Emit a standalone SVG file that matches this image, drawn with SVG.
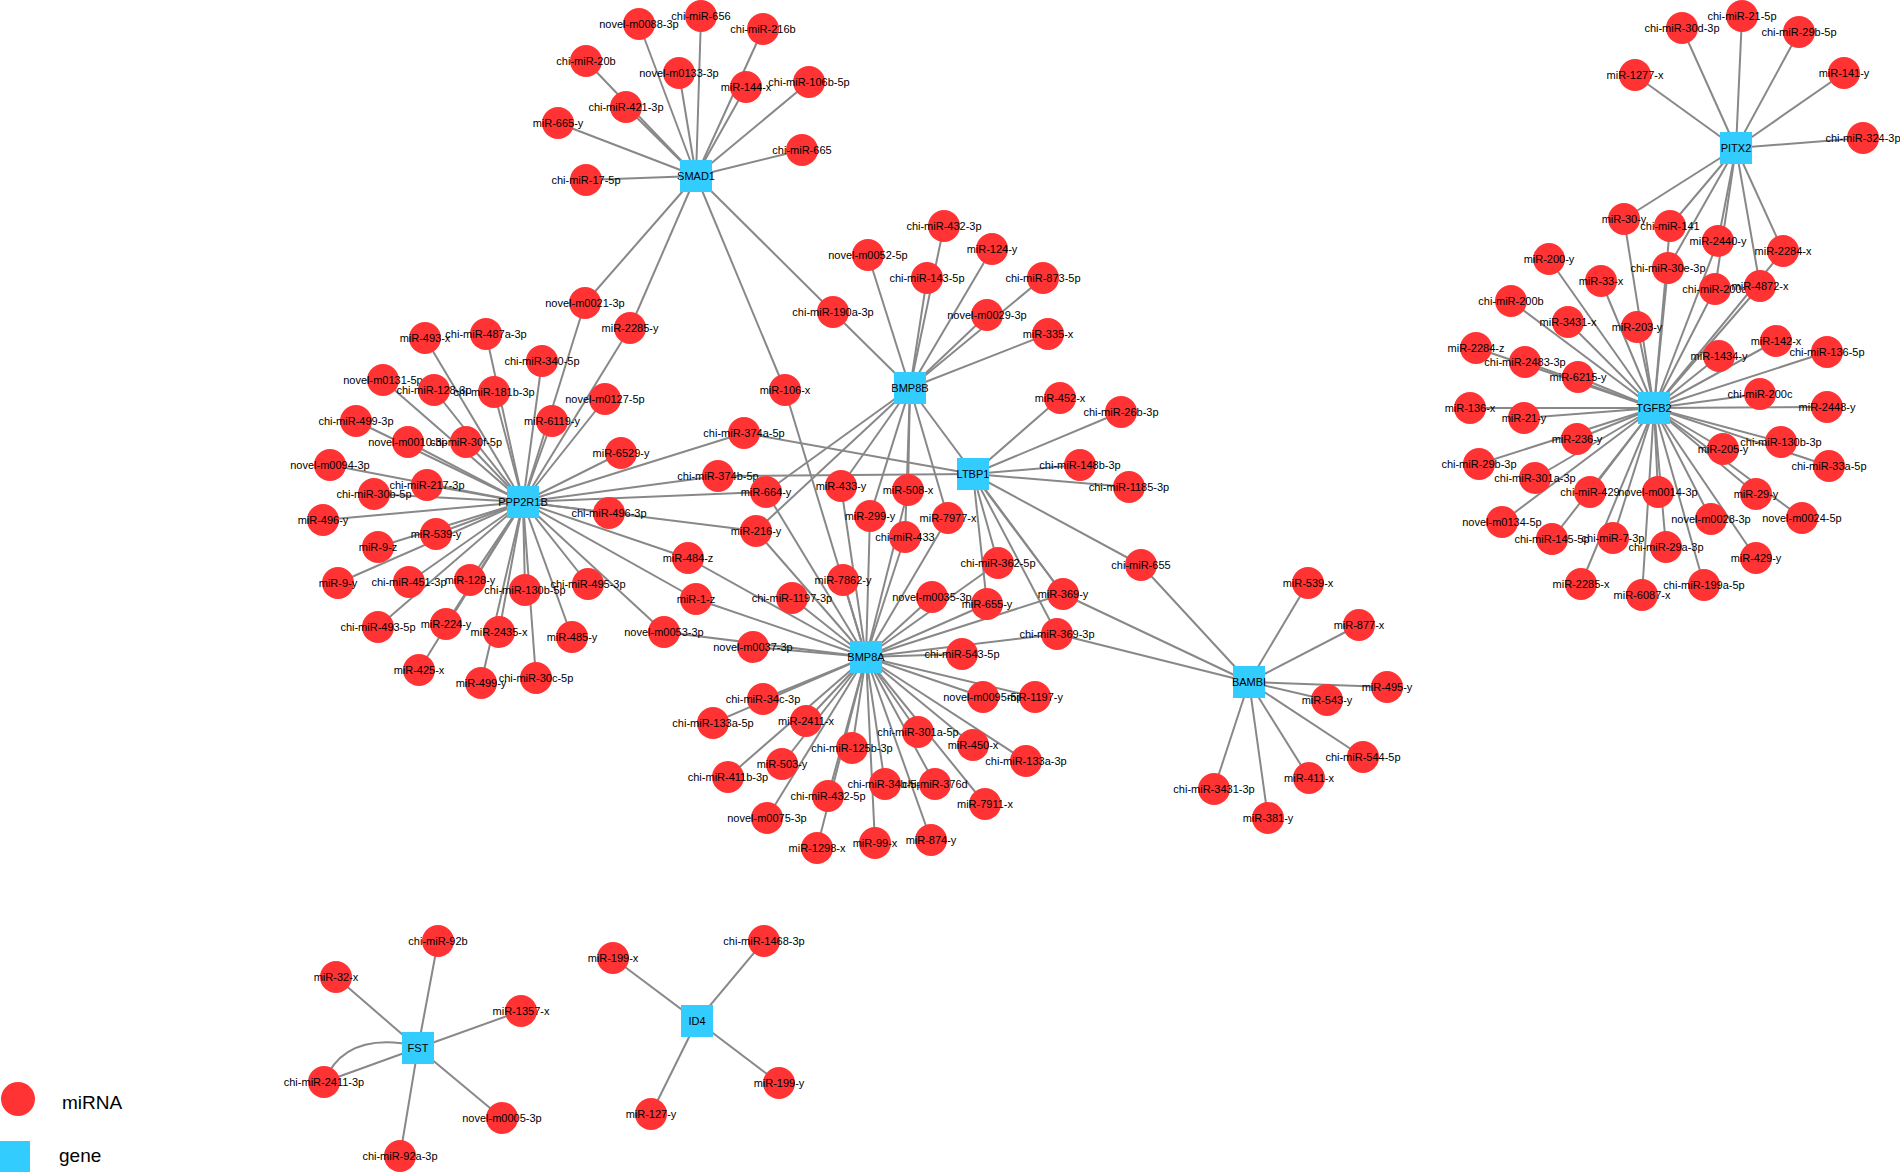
<svg xmlns="http://www.w3.org/2000/svg" width="1900" height="1172" viewBox="0 0 1900 1172">
<style>
.m circle{fill:#FF3333}
.g rect{fill:#33CCFF}
text{font-family:"Liberation Sans",Arial,sans-serif;font-size:11px;text-anchor:middle;fill:#000}
#edges line,#edges path{stroke:#888;stroke-width:2;fill:none}
.lg{font-size:19px;text-anchor:start}
</style>
<rect width="1900" height="1172" fill="#fff"/>
<g id="edges">
<!-- SMAD1 -->
<line x1="696" y1="176" x2="639" y2="24"/><line x1="696" y1="176" x2="701" y2="16"/><line x1="696" y1="176" x2="763" y2="29"/><line x1="696" y1="176" x2="586" y2="61"/><line x1="696" y1="176" x2="679" y2="73"/><line x1="696" y1="176" x2="746" y2="87"/><line x1="696" y1="176" x2="809" y2="82"/><line x1="696" y1="176" x2="626" y2="107"/><line x1="696" y1="176" x2="558" y2="123"/><line x1="696" y1="176" x2="802" y2="150"/><line x1="696" y1="176" x2="586" y2="180"/><line x1="696" y1="176" x2="585" y2="303"/><line x1="696" y1="176" x2="630" y2="328"/><line x1="696" y1="176" x2="785" y2="390"/><line x1="696" y1="176" x2="833" y2="312"/>
<!-- PPP2R1B -->
<line x1="523" y1="502" x2="425" y2="338"/><line x1="523" y1="502" x2="486" y2="334"/><line x1="523" y1="502" x2="542" y2="361"/><line x1="523" y1="502" x2="383" y2="380"/><line x1="523" y1="502" x2="434" y2="390"/><line x1="523" y1="502" x2="494" y2="392"/><line x1="523" y1="502" x2="605" y2="399"/><line x1="523" y1="502" x2="356" y2="421"/><line x1="523" y1="502" x2="552" y2="421"/><line x1="523" y1="502" x2="408" y2="442"/><line x1="523" y1="502" x2="466" y2="442"/><line x1="523" y1="502" x2="621" y2="453"/><line x1="523" y1="502" x2="330" y2="465"/><line x1="523" y1="502" x2="427" y2="485"/><line x1="523" y1="502" x2="374" y2="494"/><line x1="523" y1="502" x2="323" y2="520"/><line x1="523" y1="502" x2="436" y2="534"/><line x1="523" y1="502" x2="378" y2="547"/><line x1="523" y1="502" x2="338" y2="583"/><line x1="523" y1="502" x2="409" y2="582"/><line x1="523" y1="502" x2="470" y2="580"/><line x1="523" y1="502" x2="525" y2="590"/><line x1="523" y1="502" x2="588" y2="584"/><line x1="523" y1="502" x2="378" y2="627"/><line x1="523" y1="502" x2="446" y2="624"/><line x1="523" y1="502" x2="499" y2="632"/><line x1="523" y1="502" x2="572" y2="637"/><line x1="523" y1="502" x2="419" y2="670"/><line x1="523" y1="502" x2="481" y2="683"/><line x1="523" y1="502" x2="536" y2="678"/><line x1="523" y1="502" x2="609" y2="513"/><line x1="523" y1="502" x2="744" y2="433"/><line x1="523" y1="502" x2="718" y2="476"/><line x1="523" y1="502" x2="766" y2="492"/><line x1="523" y1="502" x2="756" y2="531"/><line x1="523" y1="502" x2="688" y2="558"/><line x1="523" y1="502" x2="696" y2="599"/><line x1="523" y1="502" x2="664" y2="632"/><line x1="523" y1="502" x2="585" y2="303"/><line x1="523" y1="502" x2="630" y2="328"/>
<!-- BMP8B -->
<line x1="910" y1="388" x2="944" y2="226"/><line x1="910" y1="388" x2="868" y2="255"/><line x1="910" y1="388" x2="992" y2="249"/><line x1="910" y1="388" x2="927" y2="278"/><line x1="910" y1="388" x2="1043" y2="278"/><line x1="910" y1="388" x2="833" y2="312"/><line x1="910" y1="388" x2="987" y2="315"/><line x1="910" y1="388" x2="1048" y2="334"/><line x1="910" y1="388" x2="766" y2="492"/><line x1="910" y1="388" x2="756" y2="531"/><line x1="910" y1="388" x2="841" y2="486"/><line x1="910" y1="388" x2="870" y2="516"/><line x1="910" y1="388" x2="908" y2="490"/><line x1="910" y1="388" x2="905" y2="537"/><line x1="910" y1="388" x2="948" y2="518"/><line x1="910" y1="388" x2="1063" y2="594"/>
<!-- LTBP1 -->
<line x1="973" y1="474" x2="1060" y2="398"/><line x1="973" y1="474" x2="1121" y2="412"/><line x1="973" y1="474" x2="1080" y2="465"/><line x1="973" y1="474" x2="1129" y2="487"/><line x1="973" y1="474" x2="1141" y2="565"/><line x1="973" y1="474" x2="744" y2="433"/><line x1="973" y1="474" x2="718" y2="476"/><line x1="973" y1="474" x2="998" y2="563"/><line x1="973" y1="474" x2="987" y2="604"/><line x1="973" y1="474" x2="1063" y2="594"/><line x1="973" y1="474" x2="1057" y2="634"/>
<!-- BMP8A -->
<line x1="866" y1="657" x2="785" y2="390"/><line x1="866" y1="657" x2="766" y2="492"/><line x1="866" y1="657" x2="756" y2="531"/><line x1="866" y1="657" x2="688" y2="558"/><line x1="866" y1="657" x2="696" y2="599"/><line x1="866" y1="657" x2="664" y2="632"/><line x1="866" y1="657" x2="753" y2="647"/><line x1="866" y1="657" x2="792" y2="598"/><line x1="866" y1="657" x2="843" y2="580"/><line x1="866" y1="657" x2="841" y2="486"/><line x1="866" y1="657" x2="870" y2="516"/><line x1="866" y1="657" x2="908" y2="490"/><line x1="866" y1="657" x2="905" y2="537"/><line x1="866" y1="657" x2="948" y2="518"/><line x1="866" y1="657" x2="932" y2="597"/><line x1="866" y1="657" x2="998" y2="563"/><line x1="866" y1="657" x2="987" y2="604"/><line x1="866" y1="657" x2="1063" y2="594"/><line x1="866" y1="657" x2="1057" y2="634"/><line x1="866" y1="657" x2="962" y2="654"/><line x1="866" y1="657" x2="983" y2="697"/><line x1="866" y1="657" x2="1035" y2="697"/><line x1="866" y1="657" x2="763" y2="699"/><line x1="866" y1="657" x2="713" y2="723"/><line x1="866" y1="657" x2="806" y2="721"/><line x1="866" y1="657" x2="728" y2="777"/><line x1="866" y1="657" x2="782" y2="764"/><line x1="866" y1="657" x2="767" y2="818"/><line x1="866" y1="657" x2="852" y2="748"/><line x1="866" y1="657" x2="828" y2="796"/><line x1="866" y1="657" x2="817" y2="848"/><line x1="866" y1="657" x2="875" y2="843"/><line x1="866" y1="657" x2="885" y2="784"/><line x1="866" y1="657" x2="931" y2="840"/><line x1="866" y1="657" x2="935" y2="784"/><line x1="866" y1="657" x2="918" y2="732"/><line x1="866" y1="657" x2="985" y2="804"/><line x1="866" y1="657" x2="973" y2="745"/><line x1="866" y1="657" x2="1026" y2="761"/>
<!-- BAMBI -->
<line x1="1249" y1="682" x2="1141" y2="565"/><line x1="1249" y1="682" x2="1063" y2="594"/><line x1="1249" y1="682" x2="1057" y2="634"/><line x1="1249" y1="682" x2="1308" y2="583"/><line x1="1249" y1="682" x2="1359" y2="625"/><line x1="1249" y1="682" x2="1387" y2="687"/><line x1="1249" y1="682" x2="1327" y2="700"/><line x1="1249" y1="682" x2="1363" y2="757"/><line x1="1249" y1="682" x2="1309" y2="778"/><line x1="1249" y1="682" x2="1214" y2="789"/><line x1="1249" y1="682" x2="1268" y2="818"/>
<!-- PITX2 -->
<line x1="1736" y1="148" x2="1742" y2="16"/><line x1="1736" y1="148" x2="1682" y2="28"/><line x1="1736" y1="148" x2="1799" y2="32"/><line x1="1736" y1="148" x2="1635" y2="75"/><line x1="1736" y1="148" x2="1844" y2="73"/><line x1="1736" y1="148" x2="1863" y2="138"/><line x1="1736" y1="148" x2="1624" y2="219"/><line x1="1736" y1="148" x2="1670" y2="226"/><line x1="1736" y1="148" x2="1718" y2="241"/><line x1="1736" y1="148" x2="1783" y2="251"/><line x1="1736" y1="148" x2="1668" y2="268"/><line x1="1736" y1="148" x2="1715" y2="289"/><line x1="1736" y1="148" x2="1760" y2="286"/>
<!-- TGFB2 -->
<line x1="1654" y1="408" x2="1624" y2="219"/><line x1="1654" y1="408" x2="1670" y2="226"/><line x1="1654" y1="408" x2="1718" y2="241"/><line x1="1654" y1="408" x2="1783" y2="251"/><line x1="1654" y1="408" x2="1668" y2="268"/><line x1="1654" y1="408" x2="1715" y2="289"/><line x1="1654" y1="408" x2="1760" y2="286"/><line x1="1654" y1="408" x2="1549" y2="259"/><line x1="1654" y1="408" x2="1601" y2="281"/><line x1="1654" y1="408" x2="1511" y2="301"/><line x1="1654" y1="408" x2="1568" y2="322"/><line x1="1654" y1="408" x2="1637" y2="327"/><line x1="1654" y1="408" x2="1476" y2="348"/><line x1="1654" y1="408" x2="1776" y2="341"/><line x1="1654" y1="408" x2="1827" y2="352"/><line x1="1654" y1="408" x2="1525" y2="362"/><line x1="1654" y1="408" x2="1719" y2="356"/><line x1="1654" y1="408" x2="1578" y2="377"/><line x1="1654" y1="408" x2="1760" y2="394"/><line x1="1654" y1="408" x2="1470" y2="408"/><line x1="1654" y1="408" x2="1827" y2="407"/><line x1="1654" y1="408" x2="1524" y2="418"/><line x1="1654" y1="408" x2="1577" y2="439"/><line x1="1654" y1="408" x2="1781" y2="442"/><line x1="1654" y1="408" x2="1723" y2="449"/><line x1="1654" y1="408" x2="1479" y2="464"/><line x1="1654" y1="408" x2="1829" y2="466"/><line x1="1654" y1="408" x2="1535" y2="478"/><line x1="1654" y1="408" x2="1590" y2="492"/><line x1="1654" y1="408" x2="1658" y2="492"/><line x1="1654" y1="408" x2="1756" y2="494"/><line x1="1654" y1="408" x2="1502" y2="522"/><line x1="1654" y1="408" x2="1711" y2="519"/><line x1="1654" y1="408" x2="1802" y2="518"/><line x1="1654" y1="408" x2="1552" y2="539"/><line x1="1654" y1="408" x2="1613" y2="538"/><line x1="1654" y1="408" x2="1666" y2="547"/><line x1="1654" y1="408" x2="1756" y2="558"/><line x1="1654" y1="408" x2="1581" y2="584"/><line x1="1654" y1="408" x2="1704" y2="585"/><line x1="1654" y1="408" x2="1642" y2="595"/>
<!-- FST -->
<line x1="418" y1="1048" x2="438" y2="941"/><line x1="418" y1="1048" x2="336" y2="977"/><line x1="418" y1="1048" x2="521" y2="1011"/><line x1="418" y1="1048" x2="324" y2="1082"/><line x1="418" y1="1048" x2="502" y2="1118"/><line x1="418" y1="1048" x2="400" y2="1156"/>
<path d="M324,1082 Q345,1030 418,1046"/>
<!-- ID4 -->
<line x1="697" y1="1021" x2="613" y2="958"/><line x1="697" y1="1021" x2="764" y2="941"/><line x1="697" y1="1021" x2="779" y2="1083"/><line x1="697" y1="1021" x2="651" y2="1114"/>
</g>
<g id="nodes">
<g id="n-novel-m0088-3p" class="m"><circle cx="639" cy="24" r="16"/><text x="639" y="28">novel-m0088-3p</text></g>
<g id="n-chi-miR-656" class="m"><circle cx="701" cy="16" r="16"/><text x="701" y="20">chi-miR-656</text></g>
<g id="n-chi-miR-216b" class="m"><circle cx="763" cy="29" r="16"/><text x="763" y="33">chi-miR-216b</text></g>
<g id="n-chi-miR-20b" class="m"><circle cx="586" cy="61" r="16"/><text x="586" y="65">chi-miR-20b</text></g>
<g id="n-novel-m0133-3p" class="m"><circle cx="679" cy="73" r="16"/><text x="679" y="77">novel-m0133-3p</text></g>
<g id="n-miR-144-x" class="m"><circle cx="746" cy="87" r="16"/><text x="746" y="91">miR-144-x</text></g>
<g id="n-chi-miR-106b-5p" class="m"><circle cx="809" cy="82" r="16"/><text x="809" y="86">chi-miR-106b-5p</text></g>
<g id="n-chi-miR-421-3p" class="m"><circle cx="626" cy="107" r="16"/><text x="626" y="111">chi-miR-421-3p</text></g>
<g id="n-miR-665-y" class="m"><circle cx="558" cy="123" r="16"/><text x="558" y="127">miR-665-y</text></g>
<g id="n-chi-miR-665" class="m"><circle cx="802" cy="150" r="16"/><text x="802" y="154">chi-miR-665</text></g>
<g id="n-chi-miR-17-5p" class="m"><circle cx="586" cy="180" r="16"/><text x="586" y="184">chi-miR-17-5p</text></g>
<g id="n-novel-m0021-3p" class="m"><circle cx="585" cy="303" r="16"/><text x="585" y="307">novel-m0021-3p</text></g>
<g id="n-miR-2285-y" class="m"><circle cx="630" cy="328" r="16"/><text x="630" y="332">miR-2285-y</text></g>
<g id="n-miR-106-x" class="m"><circle cx="785" cy="390" r="16"/><text x="785" y="394">miR-106-x</text></g>
<g id="n-chi-miR-190a-3p" class="m"><circle cx="833" cy="312" r="16"/><text x="833" y="316">chi-miR-190a-3p</text></g>

<g id="n-miR-493-x" class="m"><circle cx="425" cy="338" r="16"/><text x="425" y="342">miR-493-x</text></g>
<g id="n-chi-miR-487a-3p" class="m"><circle cx="486" cy="334" r="16"/><text x="486" y="338">chi-miR-487a-3p</text></g>
<g id="n-chi-miR-340-5p" class="m"><circle cx="542" cy="361" r="16"/><text x="542" y="365">chi-miR-340-5p</text></g>
<g id="n-novel-m0131-5p" class="m"><circle cx="383" cy="380" r="16"/><text x="383" y="384">novel-m0131-5p</text></g>
<g id="n-chi-miR-128-3p" class="m"><circle cx="434" cy="390" r="16"/><text x="434" y="394">chi-miR-128-3p</text></g>
<g id="n-chi-miR-181b-3p" class="m"><circle cx="494" cy="392" r="16"/><text x="494" y="396">chi-miR-181b-3p</text></g>
<g id="n-novel-m0127-5p" class="m"><circle cx="605" cy="399" r="16"/><text x="605" y="403">novel-m0127-5p</text></g>
<g id="n-chi-miR-499-3p" class="m"><circle cx="356" cy="421" r="16"/><text x="356" y="425">chi-miR-499-3p</text></g>
<g id="n-miR-6119-y" class="m"><circle cx="552" cy="421" r="16"/><text x="552" y="425">miR-6119-y</text></g>
<g id="n-novel-m0010-3p" class="m"><circle cx="408" cy="442" r="16"/><text x="408" y="446">novel-m0010-3p</text></g>
<g id="n-chi-miR-30f-5p" class="m"><circle cx="466" cy="442" r="16"/><text x="466" y="446">chi-miR-30f-5p</text></g>
<g id="n-miR-6529-y" class="m"><circle cx="621" cy="453" r="16"/><text x="621" y="457">miR-6529-y</text></g>
<g id="n-novel-m0094-3p" class="m"><circle cx="330" cy="465" r="16"/><text x="330" y="469">novel-m0094-3p</text></g>
<g id="n-chi-miR-217-3p" class="m"><circle cx="427" cy="485" r="16"/><text x="427" y="489">chi-miR-217-3p</text></g>
<g id="n-chi-miR-30b-5p" class="m"><circle cx="374" cy="494" r="16"/><text x="374" y="498">chi-miR-30b-5p</text></g>
<g id="n-miR-496-y" class="m"><circle cx="323" cy="520" r="16"/><text x="323" y="524">miR-496-y</text></g>
<g id="n-miR-539-y" class="m"><circle cx="436" cy="534" r="16"/><text x="436" y="538">miR-539-y</text></g>
<g id="n-miR-9-z" class="m"><circle cx="378" cy="547" r="16"/><text x="378" y="551">miR-9-z</text></g>
<g id="n-miR-9-y" class="m"><circle cx="338" cy="583" r="16"/><text x="338" y="587">miR-9-y</text></g>
<g id="n-chi-miR-451-3p" class="m"><circle cx="409" cy="582" r="16"/><text x="409" y="586">chi-miR-451-3p</text></g>
<g id="n-miR-128-y" class="m"><circle cx="470" cy="580" r="16"/><text x="470" y="584">miR-128-y</text></g>
<g id="n-chi-miR-130b-5p" class="m"><circle cx="525" cy="590" r="16"/><text x="525" y="594">chi-miR-130b-5p</text></g>
<g id="n-chi-miR-495-3p" class="m"><circle cx="588" cy="584" r="16"/><text x="588" y="588">chi-miR-495-3p</text></g>
<g id="n-chi-miR-493-5p" class="m"><circle cx="378" cy="627" r="16"/><text x="378" y="631">chi-miR-493-5p</text></g>
<g id="n-miR-224-y" class="m"><circle cx="446" cy="624" r="16"/><text x="446" y="628">miR-224-y</text></g>
<g id="n-miR-2435-x" class="m"><circle cx="499" cy="632" r="16"/><text x="499" y="636">miR-2435-x</text></g>
<g id="n-miR-485-y" class="m"><circle cx="572" cy="637" r="16"/><text x="572" y="641">miR-485-y</text></g>
<g id="n-miR-425-x" class="m"><circle cx="419" cy="670" r="16"/><text x="419" y="674">miR-425-x</text></g>
<g id="n-miR-499-y" class="m"><circle cx="481" cy="683" r="16"/><text x="481" y="687">miR-499-y</text></g>
<g id="n-chi-miR-30c-5p" class="m"><circle cx="536" cy="678" r="16"/><text x="536" y="682">chi-miR-30c-5p</text></g>
<g id="n-chi-miR-496-3p" class="m"><circle cx="609" cy="513" r="16"/><text x="609" y="517">chi-miR-496-3p</text></g>
<g id="n-chi-miR-374a-5p" class="m"><circle cx="744" cy="433" r="16"/><text x="744" y="437">chi-miR-374a-5p</text></g>
<g id="n-chi-miR-374b-5p" class="m"><circle cx="718" cy="476" r="16"/><text x="718" y="480">chi-miR-374b-5p</text></g>
<g id="n-miR-664-y" class="m"><circle cx="766" cy="492" r="16"/><text x="766" y="496">miR-664-y</text></g>
<g id="n-miR-216-y" class="m"><circle cx="756" cy="531" r="16"/><text x="756" y="535">miR-216-y</text></g>
<g id="n-miR-484-z" class="m"><circle cx="688" cy="558" r="16"/><text x="688" y="562">miR-484-z</text></g>
<g id="n-miR-1-z" class="m"><circle cx="696" cy="599" r="16"/><text x="696" y="603">miR-1-z</text></g>
<g id="n-novel-m0053-3p" class="m"><circle cx="664" cy="632" r="16"/><text x="664" y="636">novel-m0053-3p</text></g>

<g id="n-chi-miR-432-3p" class="m"><circle cx="944" cy="226" r="16"/><text x="944" y="230">chi-miR-432-3p</text></g>
<g id="n-novel-m0052-5p" class="m"><circle cx="868" cy="255" r="16"/><text x="868" y="259">novel-m0052-5p</text></g>
<g id="n-miR-124-y" class="m"><circle cx="992" cy="249" r="16"/><text x="992" y="253">miR-124-y</text></g>
<g id="n-chi-miR-143-5p" class="m"><circle cx="927" cy="278" r="16"/><text x="927" y="282">chi-miR-143-5p</text></g>
<g id="n-chi-miR-873-5p" class="m"><circle cx="1043" cy="278" r="16"/><text x="1043" y="282">chi-miR-873-5p</text></g>
<g id="n-novel-m0029-3p" class="m"><circle cx="987" cy="315" r="16"/><text x="987" y="319">novel-m0029-3p</text></g>
<g id="n-miR-335-x" class="m"><circle cx="1048" cy="334" r="16"/><text x="1048" y="338">miR-335-x</text></g>

<g id="n-miR-452-x" class="m"><circle cx="1060" cy="398" r="16"/><text x="1060" y="402">miR-452-x</text></g>
<g id="n-chi-miR-26b-3p" class="m"><circle cx="1121" cy="412" r="16"/><text x="1121" y="416">chi-miR-26b-3p</text></g>
<g id="n-chi-miR-148b-3p" class="m"><circle cx="1080" cy="465" r="16"/><text x="1080" y="469">chi-miR-148b-3p</text></g>
<g id="n-chi-miR-1185-3p" class="m"><circle cx="1129" cy="487" r="16"/><text x="1129" y="491">chi-miR-1185-3p</text></g>
<g id="n-chi-miR-655" class="m"><circle cx="1141" cy="565" r="16"/><text x="1141" y="569">chi-miR-655</text></g>
<g id="n-chi-miR-362-5p" class="m"><circle cx="998" cy="563" r="16"/><text x="998" y="567">chi-miR-362-5p</text></g>
<g id="n-miR-655-y" class="m"><circle cx="987" cy="604" r="16"/><text x="987" y="608">miR-655-y</text></g>
<g id="n-miR-369-y" class="m"><circle cx="1063" cy="594" r="16"/><text x="1063" y="598">miR-369-y</text></g>
<g id="n-chi-miR-369-3p" class="m"><circle cx="1057" cy="634" r="16"/><text x="1057" y="638">chi-miR-369-3p</text></g>

<g id="n-miR-433-y" class="m"><circle cx="841" cy="486" r="16"/><text x="841" y="490">miR-433-y</text></g>
<g id="n-miR-508-x" class="m"><circle cx="908" cy="490" r="16"/><text x="908" y="494">miR-508-x</text></g>
<g id="n-miR-299-y" class="m"><circle cx="870" cy="516" r="16"/><text x="870" y="520">miR-299-y</text></g>
<g id="n-miR-7977-x" class="m"><circle cx="948" cy="518" r="16"/><text x="948" y="522">miR-7977-x</text></g>
<g id="n-chi-miR-433" class="m"><circle cx="905" cy="537" r="16"/><text x="905" y="541">chi-miR-433</text></g>
<g id="n-miR-7862-y" class="m"><circle cx="843" cy="580" r="16"/><text x="843" y="584">miR-7862-y</text></g>
<g id="n-chi-miR-1197-3p" class="m"><circle cx="792" cy="598" r="16"/><text x="792" y="602">chi-miR-1197-3p</text></g>
<g id="n-novel-m0035-3p" class="m"><circle cx="932" cy="597" r="16"/><text x="932" y="601">novel-m0035-3p</text></g>
<g id="n-novel-m0037-3p" class="m"><circle cx="753" cy="647" r="16"/><text x="753" y="651">novel-m0037-3p</text></g>
<g id="n-chi-miR-543-5p" class="m"><circle cx="962" cy="654" r="16"/><text x="962" y="658">chi-miR-543-5p</text></g>
<g id="n-chi-miR-34c-3p" class="m"><circle cx="763" cy="699" r="16"/><text x="763" y="703">chi-miR-34c-3p</text></g>
<g id="n-novel-m0095-5p" class="m"><circle cx="983" cy="697" r="16"/><text x="983" y="701">novel-m0095-5p</text></g>
<g id="n-miR-1197-y" class="m"><circle cx="1035" cy="697" r="16"/><text x="1035" y="701">miR-1197-y</text></g>
<g id="n-chi-miR-133a-5p" class="m"><circle cx="713" cy="723" r="16"/><text x="713" y="727">chi-miR-133a-5p</text></g>
<g id="n-miR-2411-x" class="m"><circle cx="806" cy="721" r="16"/><text x="806" y="725">miR-2411-x</text></g>
<g id="n-chi-miR-301a-5p" class="m"><circle cx="918" cy="732" r="16"/><text x="918" y="736">chi-miR-301a-5p</text></g>
<g id="n-miR-450-x" class="m"><circle cx="973" cy="745" r="16"/><text x="973" y="749">miR-450-x</text></g>
<g id="n-chi-miR-125b-3p" class="m"><circle cx="852" cy="748" r="16"/><text x="852" y="752">chi-miR-125b-3p</text></g>
<g id="n-chi-miR-133a-3p" class="m"><circle cx="1026" cy="761" r="16"/><text x="1026" y="765">chi-miR-133a-3p</text></g>
<g id="n-miR-503-y" class="m"><circle cx="782" cy="764" r="16"/><text x="782" y="768">miR-503-y</text></g>
<g id="n-chi-miR-411b-3p" class="m"><circle cx="728" cy="777" r="16"/><text x="728" y="781">chi-miR-411b-3p</text></g>
<g id="n-chi-miR-34b-5p" class="m"><circle cx="885" cy="784" r="16"/><text x="885" y="788">chi-miR-34b-5p</text></g>
<g id="n-chi-miR-376d" class="m"><circle cx="935" cy="784" r="16"/><text x="935" y="788">chi-miR-376d</text></g>
<g id="n-chi-miR-432-5p" class="m"><circle cx="828" cy="796" r="16"/><text x="828" y="800">chi-miR-432-5p</text></g>
<g id="n-miR-7911-x" class="m"><circle cx="985" cy="804" r="16"/><text x="985" y="808">miR-7911-x</text></g>
<g id="n-novel-m0075-3p" class="m"><circle cx="767" cy="818" r="16"/><text x="767" y="822">novel-m0075-3p</text></g>
<g id="n-miR-874-y" class="m"><circle cx="931" cy="840" r="16"/><text x="931" y="844">miR-874-y</text></g>
<g id="n-miR-99-x" class="m"><circle cx="875" cy="843" r="16"/><text x="875" y="847">miR-99-x</text></g>
<g id="n-miR-1298-x" class="m"><circle cx="817" cy="848" r="16"/><text x="817" y="852">miR-1298-x</text></g>

<g id="n-miR-539-x" class="m"><circle cx="1308" cy="583" r="16"/><text x="1308" y="587">miR-539-x</text></g>
<g id="n-miR-877-x" class="m"><circle cx="1359" cy="625" r="16"/><text x="1359" y="629">miR-877-x</text></g>
<g id="n-miR-495-y" class="m"><circle cx="1387" cy="687" r="16"/><text x="1387" y="691">miR-495-y</text></g>
<g id="n-miR-543-y" class="m"><circle cx="1327" cy="700" r="16"/><text x="1327" y="704">miR-543-y</text></g>
<g id="n-chi-miR-544-5p" class="m"><circle cx="1363" cy="757" r="16"/><text x="1363" y="761">chi-miR-544-5p</text></g>
<g id="n-miR-411-x" class="m"><circle cx="1309" cy="778" r="16"/><text x="1309" y="782">miR-411-x</text></g>
<g id="n-chi-miR-3431-3p" class="m"><circle cx="1214" cy="789" r="16"/><text x="1214" y="793">chi-miR-3431-3p</text></g>
<g id="n-miR-381-y" class="m"><circle cx="1268" cy="818" r="16"/><text x="1268" y="822">miR-381-y</text></g>

<g id="n-chi-miR-21-5p" class="m"><circle cx="1742" cy="16" r="16"/><text x="1742" y="20">chi-miR-21-5p</text></g>
<g id="n-chi-miR-30d-3p" class="m"><circle cx="1682" cy="28" r="16"/><text x="1682" y="32">chi-miR-30d-3p</text></g>
<g id="n-chi-miR-29b-5p" class="m"><circle cx="1799" cy="32" r="16"/><text x="1799" y="36">chi-miR-29b-5p</text></g>
<g id="n-miR-1277-x" class="m"><circle cx="1635" cy="75" r="16"/><text x="1635" y="79">miR-1277-x</text></g>
<g id="n-miR-141-y" class="m"><circle cx="1844" cy="73" r="16"/><text x="1844" y="77">miR-141-y</text></g>
<g id="n-chi-miR-324-3p" class="m"><circle cx="1863" cy="138" r="16"/><text x="1863" y="142">chi-miR-324-3p</text></g>
<g id="n-miR-30-y" class="m"><circle cx="1624" cy="219" r="16"/><text x="1624" y="223">miR-30-y</text></g>
<g id="n-chi-miR-141" class="m"><circle cx="1670" cy="226" r="16"/><text x="1670" y="230">chi-miR-141</text></g>
<g id="n-miR-2440-y" class="m"><circle cx="1718" cy="241" r="16"/><text x="1718" y="245">miR-2440-y</text></g>
<g id="n-miR-2284-x" class="m"><circle cx="1783" cy="251" r="16"/><text x="1783" y="255">miR-2284-x</text></g>
<g id="n-chi-miR-30e-3p" class="m"><circle cx="1668" cy="268" r="16"/><text x="1668" y="272">chi-miR-30e-3p</text></g>
<g id="n-chi-miR-200a" class="m"><circle cx="1715" cy="289" r="16"/><text x="1715" y="293">chi-miR-200a</text></g>
<g id="n-miR-4872-x" class="m"><circle cx="1760" cy="286" r="16"/><text x="1760" y="290">miR-4872-x</text></g>
<g id="n-miR-200-y" class="m"><circle cx="1549" cy="259" r="16"/><text x="1549" y="263">miR-200-y</text></g>
<g id="n-miR-33-x" class="m"><circle cx="1601" cy="281" r="16"/><text x="1601" y="285">miR-33-x</text></g>
<g id="n-chi-miR-200b" class="m"><circle cx="1511" cy="301" r="16"/><text x="1511" y="305">chi-miR-200b</text></g>
<g id="n-miR-3431-x" class="m"><circle cx="1568" cy="322" r="16"/><text x="1568" y="326">miR-3431-x</text></g>
<g id="n-miR-203-y" class="m"><circle cx="1637" cy="327" r="16"/><text x="1637" y="331">miR-203-y</text></g>
<g id="n-miR-2284-z" class="m"><circle cx="1476" cy="348" r="16"/><text x="1476" y="352">miR-2284-z</text></g>
<g id="n-miR-142-x" class="m"><circle cx="1776" cy="341" r="16"/><text x="1776" y="345">miR-142-x</text></g>
<g id="n-chi-miR-136-5p" class="m"><circle cx="1827" cy="352" r="16"/><text x="1827" y="356">chi-miR-136-5p</text></g>
<g id="n-chi-miR-2483-3p" class="m"><circle cx="1525" cy="362" r="16"/><text x="1525" y="366">chi-miR-2483-3p</text></g>
<g id="n-miR-1434-y" class="m"><circle cx="1719" cy="356" r="16"/><text x="1719" y="360">miR-1434-y</text></g>
<g id="n-miR-6215-y" class="m"><circle cx="1578" cy="377" r="16"/><text x="1578" y="381">miR-6215-y</text></g>
<g id="n-chi-miR-200c" class="m"><circle cx="1760" cy="394" r="16"/><text x="1760" y="398">chi-miR-200c</text></g>
<g id="n-miR-136-x" class="m"><circle cx="1470" cy="408" r="16"/><text x="1470" y="412">miR-136-x</text></g>
<g id="n-miR-2448-y" class="m"><circle cx="1827" cy="407" r="16"/><text x="1827" y="411">miR-2448-y</text></g>
<g id="n-miR-21-y" class="m"><circle cx="1524" cy="418" r="16"/><text x="1524" y="422">miR-21-y</text></g>
<g id="n-miR-236-y" class="m"><circle cx="1577" cy="439" r="16"/><text x="1577" y="443">miR-236-y</text></g>
<g id="n-chi-miR-130b-3p" class="m"><circle cx="1781" cy="442" r="16"/><text x="1781" y="446">chi-miR-130b-3p</text></g>
<g id="n-miR-205-y" class="m"><circle cx="1723" cy="449" r="16"/><text x="1723" y="453">miR-205-y</text></g>
<g id="n-chi-miR-29b-3p" class="m"><circle cx="1479" cy="464" r="16"/><text x="1479" y="468">chi-miR-29b-3p</text></g>
<g id="n-chi-miR-33a-5p" class="m"><circle cx="1829" cy="466" r="16"/><text x="1829" y="470">chi-miR-33a-5p</text></g>
<g id="n-chi-miR-301a-3p" class="m"><circle cx="1535" cy="478" r="16"/><text x="1535" y="482">chi-miR-301a-3p</text></g>
<g id="n-chi-miR-429" class="m"><circle cx="1590" cy="492" r="16"/><text x="1590" y="496">chi-miR-429</text></g>
<g id="n-novel-m0014-3p" class="m"><circle cx="1658" cy="492" r="16"/><text x="1658" y="496">novel-m0014-3p</text></g>
<g id="n-miR-29-y" class="m"><circle cx="1756" cy="494" r="16"/><text x="1756" y="498">miR-29-y</text></g>
<g id="n-novel-m0134-5p" class="m"><circle cx="1502" cy="522" r="16"/><text x="1502" y="526">novel-m0134-5p</text></g>
<g id="n-novel-m0028-3p" class="m"><circle cx="1711" cy="519" r="16"/><text x="1711" y="523">novel-m0028-3p</text></g>
<g id="n-novel-m0024-5p" class="m"><circle cx="1802" cy="518" r="16"/><text x="1802" y="522">novel-m0024-5p</text></g>
<g id="n-chi-miR-145-5p" class="m"><circle cx="1552" cy="539" r="16"/><text x="1552" y="543">chi-miR-145-5p</text></g>
<g id="n-chi-miR-7-3p" class="m"><circle cx="1613" cy="538" r="16"/><text x="1613" y="542">chi-miR-7-3p</text></g>
<g id="n-chi-miR-29a-3p" class="m"><circle cx="1666" cy="547" r="16"/><text x="1666" y="551">chi-miR-29a-3p</text></g>
<g id="n-miR-429-y" class="m"><circle cx="1756" cy="558" r="16"/><text x="1756" y="562">miR-429-y</text></g>
<g id="n-miR-2285-x" class="m"><circle cx="1581" cy="584" r="16"/><text x="1581" y="588">miR-2285-x</text></g>
<g id="n-chi-miR-199a-5p" class="m"><circle cx="1704" cy="585" r="16"/><text x="1704" y="589">chi-miR-199a-5p</text></g>
<g id="n-miR-6087-x" class="m"><circle cx="1642" cy="595" r="16"/><text x="1642" y="599">miR-6087-x</text></g>

<g id="n-chi-miR-92b" class="m"><circle cx="438" cy="941" r="16"/><text x="438" y="945">chi-miR-92b</text></g>
<g id="n-miR-32-x" class="m"><circle cx="336" cy="977" r="16"/><text x="336" y="981">miR-32-x</text></g>
<g id="n-miR-1357-x" class="m"><circle cx="521" cy="1011" r="16"/><text x="521" y="1015">miR-1357-x</text></g>
<g id="n-chi-miR-2411-3p" class="m"><circle cx="324" cy="1082" r="16"/><text x="324" y="1086">chi-miR-2411-3p</text></g>
<g id="n-novel-m0005-3p" class="m"><circle cx="502" cy="1118" r="16"/><text x="502" y="1122">novel-m0005-3p</text></g>
<g id="n-chi-miR-92a-3p" class="m"><circle cx="400" cy="1156" r="16"/><text x="400" y="1160">chi-miR-92a-3p</text></g>
<g id="n-miR-199-x" class="m"><circle cx="613" cy="958" r="16"/><text x="613" y="962">miR-199-x</text></g>
<g id="n-chi-miR-1468-3p" class="m"><circle cx="764" cy="941" r="16"/><text x="764" y="945">chi-miR-1468-3p</text></g>
<g id="n-miR-199-y" class="m"><circle cx="779" cy="1083" r="16"/><text x="779" y="1087">miR-199-y</text></g>
<g id="n-miR-127-y" class="m"><circle cx="651" cy="1114" r="16"/><text x="651" y="1118">miR-127-y</text></g>

<g id="g-SMAD1" class="g"><rect x="680" y="160" width="32" height="32"/><text x="696" y="180">SMAD1</text></g>
<g id="g-PPP2R1B" class="g"><rect x="507" y="486" width="32" height="32"/><text x="523" y="506">PPP2R1B</text></g>
<g id="g-BMP8B" class="g"><rect x="894" y="372" width="32" height="32"/><text x="910" y="392">BMP8B</text></g>
<g id="g-LTBP1" class="g"><rect x="957" y="458" width="32" height="32"/><text x="973" y="478">LTBP1</text></g>
<g id="g-BMP8A" class="g"><rect x="850" y="641" width="32" height="32"/><text x="866" y="661">BMP8A</text></g>
<g id="g-BAMBI" class="g"><rect x="1233" y="666" width="32" height="32"/><text x="1249" y="686">BAMBI</text></g>
<g id="g-PITX2" class="g"><rect x="1720" y="132" width="32" height="32"/><text x="1736" y="152">PITX2</text></g>
<g id="g-TGFB2" class="g"><rect x="1638" y="392" width="32" height="32"/><text x="1654" y="412">TGFB2</text></g>
<g id="g-FST" class="g"><rect x="402" y="1032" width="32" height="32"/><text x="418" y="1052">FST</text></g>
<g id="g-ID4" class="g"><rect x="681" y="1005" width="32" height="32"/><text x="697" y="1025">ID4</text></g>
</g>
<g id="legend">
<g class="m"><circle cx="18" cy="1099" r="17"/></g>
<text class="lg" x="62" y="1109">miRNA</text>
<g class="g"><rect x="0" y="1141" width="30" height="31"/></g>
<text class="lg" x="59" y="1162">gene</text>
</g>
</svg>
